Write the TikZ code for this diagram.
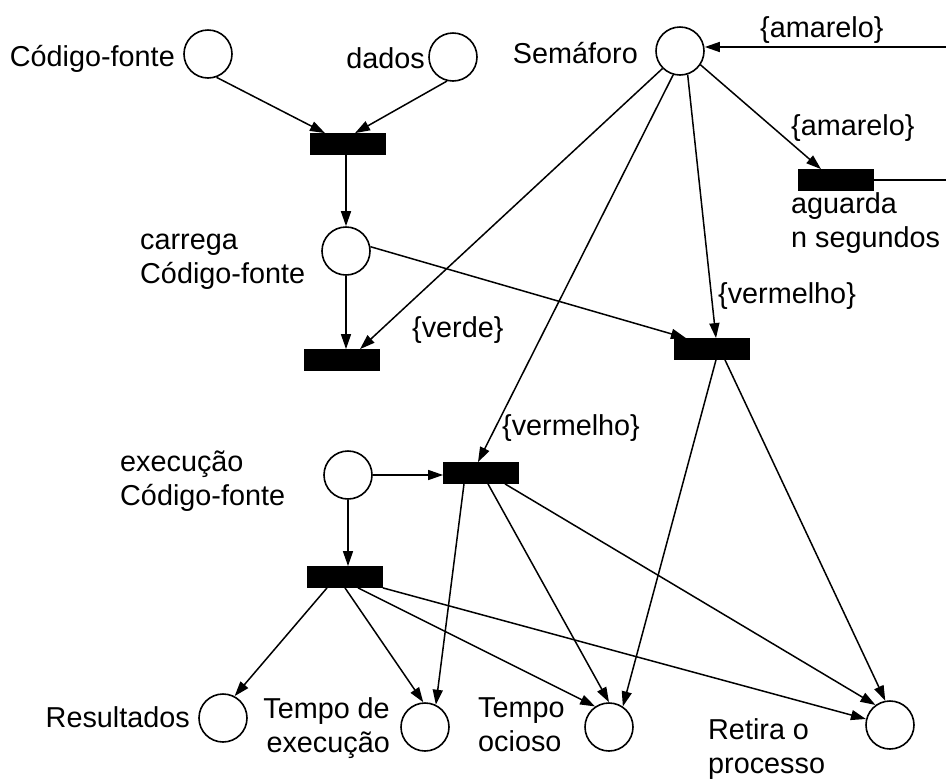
\documentclass[tikz,border=0pt]{standalone}
\usepackage{fontspec}
\setmainfont{Liberation Sans}
\usetikzlibrary{arrows.meta}
\begin{document}
\begin{tikzpicture}[x=1pt,y=-1pt,
  place/.style={draw, circle, line width=1.6pt, minimum size=48pt, inner sep=0pt},
  trans/.style={draw, fill=black, rectangle, line width=0.8pt, minimum width=75pt, minimum height=21pt, inner sep=0pt},
  flow/.style={line width=1.5pt, -{Triangle[length=15pt,width=10pt]}},
  link/.style={line width=1.5pt},
  lbl/.style={inner sep=0pt, font={\fontsize{28.8}{33.5}\selectfont}},
]
\useasboundingbox (0,0) rectangle (946,780);

% places
\node[place] (src)  at (208,54)  {};
\node[place] (dat)  at (453,57)  {};
\node[place] (sem)  at (680,51)  {};
\node[place] (load) at (346,251) {};
\node[place] (exec) at (348,475) {};
\node[place] (res)  at (223,718) {};
\node[place] (tex)  at (425,727) {};
\node[place] (toc)  at (609,727) {};
\node[place] (ret)  at (890,725) {};

% transitions
\node[trans] (t1) at (348,144) {};
\node[trans] (t2) at (342,360) {};
\node[trans] (t3) at (481,473) {};
\node[trans] (t4) at (712,349) {};
\node[trans] (t5) at (836,180) {};
\node[trans] (t6) at (345,577) {};

% loop back from the timer to the traffic light
\coordinate (edgeA) at (946,47);
\coordinate (edgeB) at (946,180);

% arcs
\draw[flow] (src.-70) -- ([xshift=-23pt]t1.north);
\draw[flow] (dat.-104) -- ([xshift=7pt]t1.north);
\draw[flow] (t1.south -| load.north) -- (load.north);
\draw[flow] (load.south) -- (load.south |- t2.north);
\draw[flow] (load.10) -- ([xshift=-26pt]t4.north);

\draw[flow] (sem.-135) -- ([xshift=18pt]t2.north);
\draw[flow] (sem.-106) -- ([xshift=-3pt]t3.north);
\draw[flow] (sem.-72) -- ([xshift=4pt]t4.north);
\draw[flow] (sem.-34) -- ([xshift=-15pt]t5.north);
\draw[link] (t5.east) -- (edgeB);
\draw[flow] (edgeA) -- (edgeA -| sem.east);

\draw[flow] (exec.east) -- (exec.east -| t3.west);
\draw[flow] (exec.south) -- (exec.south |- t6.north);

\draw[flow] ([xshift=-17pt]t3.south) -- (tex.64);
\draw[flow] ([xshift=7pt]t3.south) -- (toc.north);
\draw[flow] ([xshift=24pt]t3.south) -- (ret.126);

\draw[flow] ([xshift=4pt]t4.south) -- (toc.56);
\draw[flow] ([xshift=13pt]t4.south) -- (ret.101);

\draw[flow] ([xshift=-18pt]t6.south) -- (res.62);
\draw[flow] (t6.south) -- (tex.94);
\draw[flow] ([xshift=13pt]t6.south) -- (toc.124);
\draw[flow] (t6.south east) -- (ret.166);

% labels (multi-line labels are anchored on the baseline of their last line)
\node[lbl, anchor=base east] (lsrc) at (175,66) {Código-fonte};
\node[lbl, anchor=base east] (ldat) at (425,68) {dados};
\node[lbl, anchor=base east] (lsem) at (638,63) {Semáforo};
\node[lbl, anchor=base west] (lam1) at (760,37) {\{amarelo\}};
\node[lbl, anchor=base west] (lam2) at (791,135) {\{amarelo\}};
\node[lbl, anchor=base west, align=left] (lwait) at (791,247) {aguarda\\n segundos};
\node[lbl, anchor=base west, align=left] (lload) at (140,283) {carrega\\Código-fonte};
\node[lbl, anchor=base west] (lgreen) at (412,337) {\{verde\}};
\node[lbl, anchor=base west] (lred1) at (718,303) {\{vermelho\}};
\node[lbl, anchor=base west] (lred2) at (502,435) {\{vermelho\}};
\node[lbl, anchor=base west, align=left] (lexec) at (120,505) {execução\\Código-fonte};
\node[lbl, anchor=base east] (lres) at (190,727) {Resultados};
\node[lbl, anchor=base east, align=right] (ltex) at (390,752) {Tempo de\\execução};
\node[lbl, anchor=base west, align=left] (ltoc) at (478,751) {Tempo\\ocioso};
\node[lbl, anchor=base west, align=left] (lret) at (708,773) {Retira o\\processo};
\end{tikzpicture}
\end{document}
